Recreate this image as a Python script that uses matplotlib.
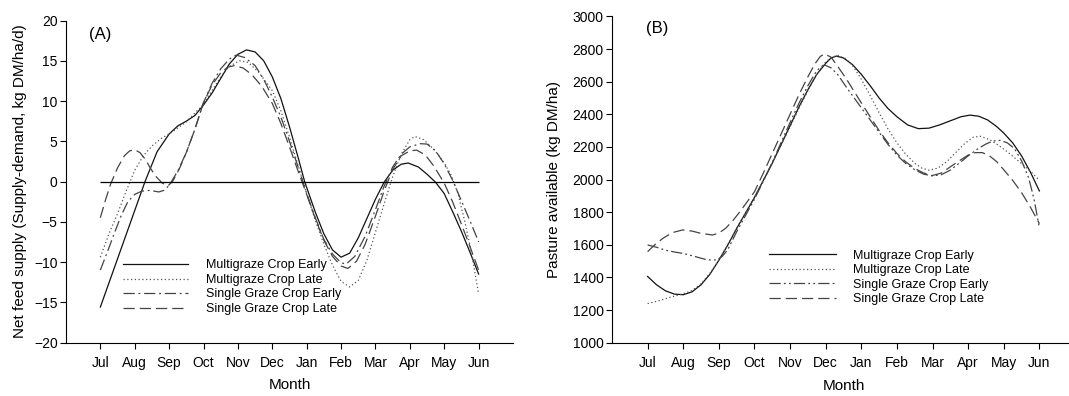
import matplotlib
matplotlib.use('Agg')
import matplotlib.pyplot as plt

plt.rcParams['font.family'] = ['Liberation Sans', 'DejaVu Sans']

# etiquetas de meses (Jul = 0 ... Jun = 11)
months = ['Jul', 'Aug', 'Sep', 'Oct', 'Nov', 'Dec', 'Jan', 'Feb', 'Mar', 'Apr', 'May', 'Jun']
series_names = ['Multigraze Crop Early', 'Multigraze Crop Late',
                'Single Graze Crop Early', 'Single Graze Crop Late']

# (A) Net feed supply, kg DM/ha/d
a_mce_x = [0, 0.5, 1.0, 1.3, 1.65, 2.0, 2.25, 2.5, 2.75, 3.0, 3.25, 3.5, 3.75, 4.0, 4.25, 4.5, 4.75,
           5.0, 5.25, 5.5, 5.75, 5.94, 6.25, 6.5, 6.75, 7.0, 7.25, 7.5, 7.75, 8.0, 8.25, 8.5, 8.75,
           8.95, 9.25, 9.5, 9.75, 10.0, 10.25, 10.5, 10.75, 11.0]
a_mce_y = [-15.6, -9.6, -3.6, 0.0, 3.7, 5.9, 6.9, 7.5, 8.2, 9.5, 11.0, 12.8, 14.6, 15.8, 16.35, 16.1, 15.0,
           13.0, 10.3, 6.8, 3.0, 0.0, -3.8, -6.5, -8.5, -9.4, -8.9, -7.0, -4.6, -2.2, -0.1, 1.4, 2.15,
           2.3, 1.8, 0.9, -0.1, -1.5, -3.8, -6.2, -8.8, -11.5]

a_mcl_x = [0, 0.25, 0.5, 0.75, 1.0, 1.25, 1.5, 1.75, 2.0, 2.5, 3.0, 3.25, 3.5, 3.75, 4.05, 4.3, 4.6,
           5.0, 5.25, 5.5, 5.75, 6.0, 6.25, 6.5, 6.75, 7.0, 7.25, 7.5, 7.75, 8.0, 8.25, 8.5, 8.75,
           9.0, 9.15, 9.4, 9.7, 10.0, 10.2, 10.4, 10.6, 10.8, 11.0]
a_mcl_y = [-9.4, -6.5, -4.0, -1.2, 1.4, 3.2, 4.4, 5.3, 5.9, 7.4, 9.6, 11.3, 13.0, 14.3, 15.0, 14.8, 13.6,
           11.3, 8.8, 5.5, 2.0, -1.5, -4.8, -7.8, -10.4, -12.4, -13.1, -12.3, -9.8, -6.3, -2.8, 0.6, 3.4,
           5.2, 5.6, 5.2, 4.0, 2.3, 0.8, -1.5, -5.0, -9.0, -14.0]

a_sgce_x = [0, 0.2, 0.4, 0.6, 0.8, 1.0, 1.2, 1.45, 1.7, 1.85, 2.0, 2.25, 2.5, 2.75, 3.0, 3.25, 3.5,
            3.75, 3.95, 4.2, 4.5, 4.75, 5.0, 5.25, 5.5, 5.75, 6.0, 6.25, 6.5, 6.75, 7.0, 7.15, 7.4,
            7.7, 8.0, 8.25, 8.5, 8.75, 9.0, 9.3, 9.5, 9.75, 10.0, 10.25, 10.5, 10.75, 11.0]
a_sgce_y = [-11.0, -8.8, -6.5, -4.3, -2.5, -1.6, -1.2, -1.1, -1.3, -1.1, -0.5, 1.3, 3.6, 6.5, 9.8, 12.2, 14.0,
            15.2, 15.7, 15.4, 14.4, 12.7, 10.5, 8.0, 5.0, 1.8, -1.5, -4.5, -7.2, -9.0, -10.1, -10.25, -9.3,
            -6.8, -3.5, -0.6, 1.8, 3.4, 4.3, 4.7, 4.65, 3.8, 2.2, 0.1, -2.4, -4.9, -7.5]

a_sgcl_x = [0, 0.15, 0.3, 0.5, 0.7, 0.85, 1.0, 1.15, 1.3, 1.45, 1.6, 1.8, 1.96, 2.1, 2.3, 2.5, 2.75,
            3.0, 3.25, 3.5, 3.7, 3.9, 4.15, 4.4, 4.7, 5.0, 5.25, 5.5, 5.75, 6.0, 6.25, 6.5, 6.75,
            7.0, 7.2, 7.45, 7.7, 8.0, 8.25, 8.5, 8.75, 9.0, 9.2, 9.45, 9.7, 10.0, 10.25, 10.5, 10.75, 11.0]
a_sgcl_y = [-4.5, -2.3, -0.3, 1.7, 3.2, 3.8, 3.95, 3.6, 2.8, 1.7, 0.7, -0.2, -0.55, 0.0, 1.6, 3.6, 6.5,
            9.8, 12.0, 13.5, 14.2, 14.4, 14.1, 13.3, 11.8, 9.7, 7.2, 4.3, 1.3, -1.6, -4.6, -7.3, -9.3,
            -10.5, -10.8, -9.9, -7.8, -4.3, -1.2, 1.5, 3.2, 3.8, 3.9, 3.3, 1.9, -0.2, -2.6, -5.3, -8.1, -11.0]

# (B) Pasture available, kg DM/ha
b_mce_x = [0, 0.25, 0.5, 0.75, 1.0, 1.25, 1.5, 1.75, 2.0, 2.25, 2.5, 2.75, 3.0, 3.25, 3.5, 3.75,
           4.0, 4.25, 4.5, 4.75, 5.0, 5.15, 5.3, 5.5, 5.75, 6.0, 6.25, 6.5, 6.75, 7.0, 7.3, 7.6,
           7.9, 8.2, 8.5, 8.8, 9.05, 9.3, 9.55, 9.8, 10.0, 10.25, 10.5, 10.75, 11.0]
b_mce_y = [1406, 1355, 1318, 1298, 1294, 1312, 1355, 1420, 1505, 1598, 1700, 1795, 1890, 1995, 2100, 2215,
           2330, 2445, 2550, 2645, 2712, 2745, 2757, 2745, 2705, 2645, 2575, 2500, 2435, 2385, 2335, 2312,
           2315, 2335, 2360, 2385, 2395, 2388, 2365, 2325, 2285, 2225, 2145, 2045, 1930]

b_mcl_x = [0, 0.33, 0.66, 1.0, 1.25, 1.5, 1.75, 2.0, 2.25, 2.5, 2.75, 3.0, 3.25, 3.5, 3.75, 4.0,
           4.25, 4.5, 4.75, 5.0, 5.2, 5.35, 5.55, 5.75, 6.0, 6.25, 6.5, 6.75, 7.0, 7.25, 7.5, 7.7,
           7.9, 8.15, 8.4, 8.65, 8.9, 9.15, 9.35, 9.6, 9.85, 10.1, 10.35, 10.6, 10.8, 11.0]
b_mcl_y = [1240, 1258, 1280, 1300, 1320, 1362, 1425, 1508, 1600, 1702, 1797, 1890, 1997, 2103, 2212, 2322,
           2437, 2545, 2645, 2722, 2752, 2760, 2742, 2700, 2615, 2515, 2410, 2310, 2225, 2155, 2100, 2070,
           2057, 2070, 2110, 2165, 2220, 2260, 2265, 2245, 2210, 2170, 2125, 2080, 2040, 1995]

b_sgce_x = [0, 0.25, 0.5, 0.75, 1.0, 1.3, 1.6, 1.8, 1.95, 2.1, 2.25, 2.5, 2.75, 3.0, 3.25, 3.5,
            3.75, 4.0, 4.25, 4.5, 4.7, 4.85, 4.97, 5.15, 5.35, 5.6, 5.8, 6.0, 6.25, 6.5, 6.75, 7.0,
            7.25, 7.5, 7.75, 8.0, 8.25, 8.5, 8.75, 9.0, 9.25, 9.5, 9.7, 9.9, 10.1, 10.3, 10.5, 10.7,
            10.85, 11.0]
b_sgce_y = [1599, 1585, 1567, 1556, 1547, 1530, 1512, 1506, 1508, 1530, 1570, 1680, 1780, 1880, 1990, 2105,
            2228, 2350, 2468, 2575, 2650, 2690, 2702, 2685, 2640, 2560, 2500, 2440, 2365, 2290, 2215, 2150,
            2098, 2060, 2033, 2022, 2030, 2058, 2100, 2145, 2185, 2218, 2236, 2240, 2225, 2190, 2115, 2010,
            1880, 1705]

b_sgcl_x = [0, 0.2, 0.43, 0.7, 0.98, 1.25, 1.5, 1.82, 2.0, 2.19, 2.4, 2.6, 2.8, 3.0, 3.25, 3.5,
            3.75, 4.0, 4.25, 4.5, 4.7, 4.85, 4.97, 5.15, 5.35, 5.6, 5.8, 6.0, 6.25, 6.5, 6.75, 7.0,
            7.25, 7.5, 7.75, 8.0, 8.25, 8.5, 8.75, 9.0, 9.2, 9.4, 9.6, 9.8, 10.0, 10.25, 10.5, 10.75, 11.0]
b_sgcl_y = [1558, 1600, 1640, 1675, 1691, 1684, 1670, 1660, 1672, 1701, 1750, 1805, 1865, 1925, 2040, 2160,
            2280, 2400, 2520, 2630, 2710, 2755, 2770, 2750, 2690, 2610, 2540, 2470, 2385, 2300, 2225, 2160,
            2108, 2068, 2040, 2025, 2040, 2078, 2115, 2150, 2165, 2165, 2145, 2110, 2060, 1995, 1920, 1830, 1730]

a_series = [(a_mce_x, a_mce_y), (a_mcl_x, a_mcl_y), (a_sgce_x, a_sgce_y), (a_sgcl_x, a_sgcl_y)]
b_series = [(b_mce_x, b_mce_y), (b_mcl_x, b_mcl_y), (b_sgce_x, b_sgce_y), (b_sgcl_x, b_sgcl_y)]

# estilos de linea
colors = ['#111111', '#555555', '#444444', '#444444']
a_styles = ['-', (0, (1, 2)), (0, (9, 3, 1.5, 3)), (0, (9, 4))]
b_styles = ['-', (0, (1, 2)), (0, (9, 2.5, 1.5, 2.5, 1.5, 2.5)), (0, (9, 4))]

fig = plt.figure(figsize=(10.69, 3.96), dpi=100)
ax1 = fig.add_axes([0.0617, 0.1351, 0.4182, 0.8131])
ax2 = fig.add_axes([0.5725, 0.1346, 0.4331, 0.8240])

def style_axes(ax):
    for s in ['top', 'right']:
        ax.spines[s].set_visible(False)
    for s in ['left', 'bottom']:
        ax.spines[s].set_linewidth(0.8)
    ax.set_xlim(-1, 12)
    ax.set_xticks(range(len(months)))
    ax.set_xticklabels(months)
    ax.tick_params(axis='both', direction='out', length=4.5, width=0.8, labelsize=10)
    ax.tick_params(axis='x', pad=5)
    ax.tick_params(axis='y', pad=1.5)
    ax.set_xlabel('Month', fontsize=11)
    ax.xaxis.set_label_coords(0.5, -0.11)

# Panel A
for (x, y), st, c, name in zip(a_series, a_styles, colors, series_names):
    ax1.plot(x, y, linestyle=st, color=c, lw=0.9, label=name)
ax1.hlines(0, 0, len(months) - 1, color='black', lw=0.9)
style_axes(ax1)
ax1.set_ylim(-20, 20)
ax1.set_yticks(range(-20, 21, 5))
ax1.set_ylabel('Net feed supply (Supply-demand, kg DM/ha/d)', fontsize=11)
ax1.yaxis.set_label_coords(-0.087, 0.5)
ax1.text(0.076, 0.958, '(A)', transform=ax1.transAxes, fontsize=12, ha='center', va='center')
ax1.legend(loc='upper left', bbox_to_anchor=(0.128, 0.258), frameon=False, fontsize=9,
           handlelength=5.2, handletextpad=1.4, labelspacing=0.2, borderpad=0, borderaxespad=0)

# Panel B
for (x, y), st, c, name in zip(b_series, b_styles, colors, series_names):
    ax2.plot(x, y, linestyle=st, color=c, lw=0.9, label=name)
style_axes(ax2)
ax2.set_ylim(1000, 3000)
ax2.set_yticks(range(1000, 3001, 200))
ax2.set_ylabel('Pasture available (kg DM/ha)', fontsize=11)
ax2.yaxis.set_label_coords(-0.11, 0.5)
ax2.text(0.098, 0.9635, '(B)', transform=ax2.transAxes, fontsize=12, ha='center', va='center')
ax2.legend(loc='upper left', bbox_to_anchor=(0.34, 0.285), frameon=False, fontsize=9,
           handlelength=5.3, handletextpad=1.35, labelspacing=0.2, borderpad=0, borderaxespad=0)

fig.savefig('out.png', dpi=100)
